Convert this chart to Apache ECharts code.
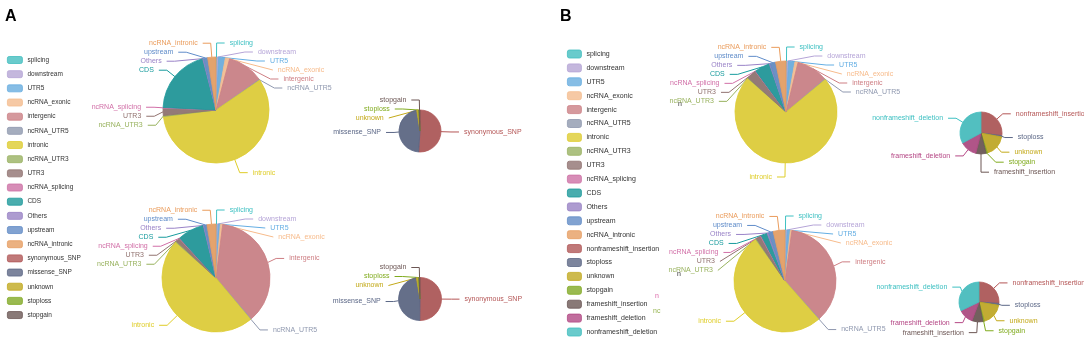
<!DOCTYPE html>
<html>
<head>
<meta charset="utf-8">
<script src="https://cdn.jsdelivr.net/npm/echarts@6/dist/echarts.min.js"></script>
<style>
html,body{margin:0;padding:0;background:#fff;}
#a,#b{position:absolute;top:0;width:542px;height:343px;}
#a{left:0;} #b{left:542px;}
</style>
</head>
<body>
<div id="a"></div>
<div id="b"></div>
<script>
// ---------- DATA ----------
const regionCats = ['splicing','downstream','UTR5','ncRNA_exonic','intergenic','ncRNA_UTR5','intronic','ncRNA_UTR3','UTR3','ncRNA_splicing','CDS','Others','upstream','ncRNA_intronic'];
const regionA1 = [0.3,0.5,2.0,1.3,11.0,0.2,57.0,0.3,2.2,0.2,20.0,0.3,1.2,2.5];
const regionA2 = [0.3,0.4,0.6,0.7,37.0,0.2,48.0,0.3,1.2,0.2,8.0,0.3,0.8,2.7];
const regionB1 = [0.3,0.5,2.0,1.0,10.0,0.2,72.5,0.2,3.0,0.2,4.8,0.3,1.7,3.3];
const regionB2 = [0.3,0.4,1.0,0.5,36.7,0.2,52.5,0.3,1.5,0.3,2.0,0.5,1.5,3.8];
const snpCats = ['synonymous_SNP','missense_SNP','unknown','stoploss','stopgain'];
const snpA1 = [51.0,46.5,1.5,0.3,0.7];
const snpA2 = [50.0,47.0,1.5,0.5,0.7];
const indelCats = ['nonframeshift_insertion','stoploss','unknown','stopgain','frameshift_insertion','frameshift_deletion','nonframeshift_deletion'];
const indelB1 = [27,1,17,1,8,13,33];
const indelB2 = [26,1.5,18,1,9,12,32];
const legendA = regionCats.concat(snpCats);
const legendB = regionCats.concat(indelCats);

// ---------- STYLE ----------
const palette = ['#2ec7c9','#b6a2de','#5ab1ef','#ffb980','#d87a80','#8d98b3','#e5cf0d','#97b552','#95706d','#dc69aa','#07a2a4','#9a7fd1','#588dd5','#f5994e','#c05050','#59678c','#c9ab00','#7eb00a','#6f5553','#c14089'];
const FONT = '"Liberation Sans", Arial, Helvetica, sans-serif';
function muted(hex, a, k){
  const n = parseInt(hex.slice(1),16);
  let r=(n>>16)&255, g=(n>>8)&255, b=n&255;
  const l = 0.299*r+0.587*g+0.114*b;
  r = Math.round(r*(1-k)+l*k); g = Math.round(g*(1-k)+l*k); b = Math.round(b*(1-k)+l*k);
  return 'rgba('+r+','+g+','+b+','+a+')';
}
function colorOf(legend, name){ return palette[legend.indexOf(name) % palette.length]; }
function items(legend, cats, vals){
  return cats.map((c,i)=>{
    const col = colorOf(legend, c);
    return {name:c, value:vals[i],
      itemStyle:{color:muted(col,0.95,0.25), borderColor:muted(col,1,0.2), borderWidth:0.8},
      label:{color:muted(col,1,0.15)}, labelLine:{lineStyle:{color:muted(col,1,0.15)}}};
  });
}
function pie(legend, cats, vals, center, r, l1, l2, lh){
  return {type:'pie', center:center, radius:r, startAngle:90, clockwise:true,
    avoidLabelOverlap:true, animation:false,
    label:{show:true, position:'outside', fontSize:7, fontFamily:FONT, lineHeight:lh, overflow:'none'},
    labelLine:{show:true, length:l1, length2:l2, lineStyle:{width:1}},
    emphasis:{disabled:true},
    data:items(legend, cats, vals)};
}
function legendOpt(list, left, top, fs, gap, iw, ih){
  return {orient:'vertical', left:left, top:top, height:320, padding:0,
    itemWidth:iw, itemHeight:ih, itemGap:gap,
    icon:'roundRect', selectedMode:false,
    textStyle:{fontSize:fs, color:'#333', fontFamily:FONT, lineHeight:10},
    data:list.map(n=>({name:n, itemStyle:{color:muted(colorOf(list,n),0.8,0.2), borderColor:muted(colorOf(list,n),1,0.2), borderWidth:0.8}}))};
}

const chartA = echarts.init(document.getElementById('a'));
chartA.setOption({
  animation:false,
  title:{text:'A', left:5, top:9, padding:0, textStyle:{fontSize:16, fontWeight:'bold', color:'#000', fontFamily:FONT}},
  legend:legendOpt(legendA, 7, 55, 6.5, 4.17, 15, 7),
  series:[
    pie(legendA, regionCats, regionA1, [216,110], 53, 14, 8, 6),
    pie(legendA, regionCats, regionA2, [216,278], 54, 14, 8, 6),
    pie(legendA, snpCats, snpA1, [420,131], 21, 10, 8, 7),
    pie(legendA, snpCats, snpA2, [420,299], 21.5, 10, 8, 7)
  ]
});

const chartB = echarts.init(document.getElementById('b'));
chartB.setOption({
  animation:false,
  title:{text:'B', left:18, top:9, padding:0, textStyle:{fontSize:16, fontWeight:'bold', color:'#000', fontFamily:FONT}},
  legend:legendOpt(legendB, 25, 49, 7, 3.9, 14, 8),
  graphic:[
    {type:'text', left:136, top:101, style:{text:'n', fontSize:7, fill:'#333', fontFamily:FONT}},
    {type:'text', left:135, top:271, style:{text:'n', fontSize:7, fill:'#333', fontFamily:FONT}},
    {type:'text', left:113, top:293, style:{text:'n', fontSize:7, fill:'#dc69aa', fontFamily:FONT}},
    {type:'text', left:111, top:308, style:{text:'nc', fontSize:7, fill:'#97b552', fontFamily:FONT}}
  ],
  series:[
    pie(legendB, regionCats, regionB1, [244,112], 51, 14, 8, 6),
    pie(legendB, regionCats, regionB2, [243,281], 51, 14, 8, 6),
    pie(legendB, indelCats, indelB1, [439,133], 21, 8, 8, 8),
    pie(legendB, indelCats, indelB2, [437,302], 20, 8, 8, 8)
  ]
});
</script>
</body>
</html>
